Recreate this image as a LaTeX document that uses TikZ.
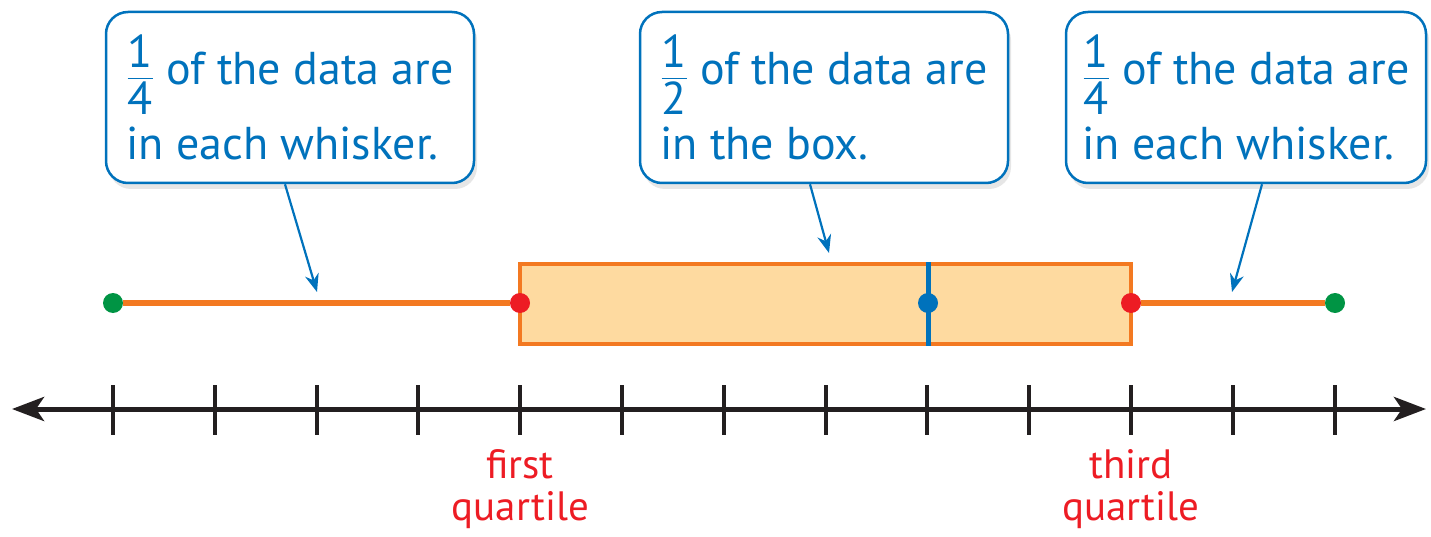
\documentclass[tikz,border=0pt]{standalone}
\usepackage{amsmath}
\usepackage{fontspec}
\setmainfont{PT Sans}
\usepackage{tikz}
\usetikzlibrary{arrows.meta,positioning,shadows}
\definecolor{callblue}{RGB}{0,114,188}
\definecolor{whiskorange}{RGB}{243,121,33}
\definecolor{boxfill}{RGB}{254,218,160}
\definecolor{quartred}{RGB}{237,28,36}
\definecolor{endgreen}{RGB}{0,148,68}
\definecolor{axisblack}{RGB}{35,31,32}

\begin{document}
\begin{tikzpicture}[x=1pt, y=-1pt, >=Stealth,
    callout/.style={rectangle, draw=callblue, line width=2.5pt, rounded corners=22pt, fill=white, text=callblue, minimum height=171pt, align=left, inner sep=0pt, font=\fontsize{46}{75}\selectfont, drop shadow={opacity=0.2, shadow xshift=3pt, shadow yshift=-6pt}},
    pointer/.style={-{Stealth[length=18pt,width=14pt]}, line width=2.2pt, draw=callblue},
    whisker/.style={line width=6pt, draw=whiskorange},
    boxnode/.style={rectangle, draw=whiskorange, line width=4pt, fill=boxfill, inner sep=0pt},
    median/.style={line width=5pt, draw=callblue},
    dot/.style={circle, inner sep=0pt, minimum size=20pt},
    numline/.style={line width=5pt, draw=axisblack, {Stealth[length=32pt,width=24pt,inset=8pt]}-{Stealth[length=32pt,width=24pt,inset=8pt]}},
    tickline/.style={line width=4pt, draw=axisblack},
    quart/.style={text=quartred, align=center, inner sep=0pt, font=\fontsize{41}{42}\selectfont}]

\useasboundingbox (0,0) rectangle (1431,537);

\node [callout, minimum width=368pt] (lowcall) at (290,97.5) {$\displaystyle\frac{\text{1}}{\text{4}}$ of the data are\\in each whisker.};
\node [callout, minimum width=368pt] (boxcall) at (824,97.5) {$\displaystyle\frac{\text{1}}{\text{2}}$ of the data are\\in the box.};
\node [callout, minimum width=360pt] (highcall) at (1246,97.5) {$\displaystyle\frac{\text{1}}{\text{4}}$ of the data are\\in each whisker.};

\coordinate (minpt) at (113,303);
\coordinate (qonept) at (520,303);
\coordinate (medpt) at (928,303);
\coordinate (qthreept) at (1131,303);
\coordinate (maxpt) at (1335,303);

\node [boxnode, minimum width=611pt, minimum height=80pt] (box) at (825.5,304) {};
\draw [median] (box.north -| medpt) -- (box.south -| medpt);

\node [dot, fill=endgreen] (minv) at (minpt) {};
\node [dot, fill=quartred] (qone) at (qonept) {};
\node [dot, fill=callblue] (med) at (medpt) {};
\node [dot, fill=quartred] (qthree) at (qthreept) {};
\node [dot, fill=endgreen] (maxv) at (maxpt) {};

\draw [whisker] (minv) -- (qone);
\draw [whisker] (qthree) -- (maxv);

\coordinate (lowtip) at (317,292);
\coordinate (boxtip) at (829,253);
\coordinate (hightip) at (1232,292);
\draw [pointer] ([xshift=-5pt]lowcall.south) -- (lowtip);
\draw [pointer] ([xshift=-14pt]boxcall.south) -- (boxtip);
\draw [pointer] ([xshift=16pt]highcall.south) -- (hightip);

\coordinate (axl) at (12,409);
\coordinate (axr) at (1426,409);
\draw [numline] (axl) -- (axr);
\foreach \i in {0,...,12}
  \coordinate (t\i) at (113+\i*101.8,409);
\foreach \i in {0,...,12}
  \draw [tickline] (t\i) ++(0,-24) -- ++(0,50);

\node [quart, below=40pt of t4] (firstq) {first\\quartile};
\node [quart, below=40pt of t10] (thirdq) {third\\quartile};

\end{tikzpicture}
\end{document}
